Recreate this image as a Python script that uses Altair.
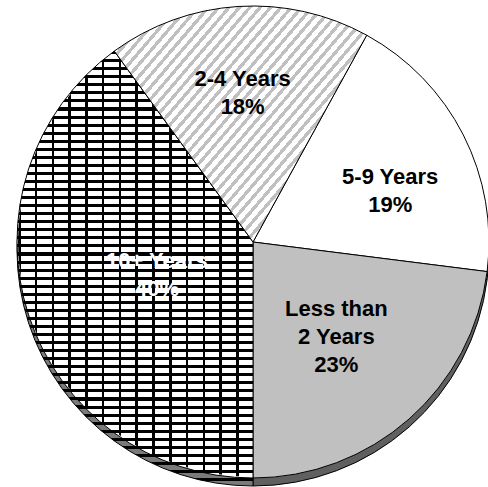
import math
import altair as alt
import pandas as pd

# Tenure groups, clockwise from the first slice
names = ["5-9 Years", "Less than\n2 Years", "10+ Years", "2-4 Years"]
shares = [19, 23, 40, 18]
order = [1, 2, 3, 4]

df = pd.DataFrame({
    "name": names,
    "share": shares,
    "order": order,
    "label": [f"{n}\n{s}%" for n, s in zip(names, shares)],
})

# Pie geometry
CX, CY, R = 253, 242, 236
DEPTH = 8
START = math.radians(28.8)
theta_scale = alt.Scale(domain=[0, 100], range=[START, START + 2 * math.pi])
LINE_H = 28


def stripes(n, on, off, frac, x2, y2):
    """Hard-edged repeating bands built from a linear gradient."""
    stops = []
    for i in range(n):
        a, b, c = i / n, (i + frac) / n, (i + 1) / n
        stops += [
            alt.GradientStop(color=on, offset=a),
            alt.GradientStop(color=on, offset=b),
            alt.GradientStop(color=off, offset=b),
            alt.GradientStop(color=off, offset=min(c, 1.0)),
        ]
    return alt.LinearGradient(gradient="linear", stops=stops,
                              x1=0, y1=0, x2=x2, y2=y2)


# brick texture: mortar rows plus vertical joints
brick_rows = stripes(53, "black", "white", 0.38, 0, 1)
brick_joints = stripes(14, "black", "rgba(0,0,0,0)", 0.15, 1, 0)
brick_rows_dark = stripes(53, "black", "#7a7a7a", 0.38, 0, 1)
# light grey diagonal hatching
diag = stripes(40, "#c0c0c0", "white", 0.42, 1, 0.8)

fills = {
    "5-9 Years": "white",
    "Less than\n2 Years": "#c0c0c0",
    "10+ Years": brick_rows,
    "2-4 Years": diag,
}
side_fills = {
    "5-9 Years": "#606060",
    "Less than\n2 Years": "#606060",
    "10+ Years": brick_rows_dark,
    "2-4 Years": "#606060",
}
# label placement: (radius, dx, dy) for the centre of each text block
label_pos = {
    "5-9 Years": (145, 8, 15),
    "Less than\n2 Years": (126, 0, 0),
    "10+ Years": (101, 0, 2),
    "2-4 Years": (149, -1, 0),
}

base = alt.Chart(df).transform_window(
    cum="sum(share)", sort=[alt.SortField("order")], frame=[None, 0]
).transform_calculate(
    start="datum.cum - datum.share",
    mid="datum.cum - datum.share / 2",
)

theta = alt.Theta("start:Q", scale=theta_scale, stack=None)

layers = []
# depth band under the pie
for n in names:
    layers.append(
        base.transform_filter(alt.datum.name == n)
        .mark_arc(radius=R, fill=side_fills[n], stroke="black", strokeWidth=1)
        .encode(theta=theta, theta2="cum:Q", x=alt.value(CX), y=alt.value(CY + DEPTH))
    )
# slices
for n in names:
    layers.append(
        base.transform_filter(alt.datum.name == n)
        .mark_arc(radius=R, fill=fills[n], stroke="black", strokeWidth=1)
        .encode(theta=theta, theta2="cum:Q", x=alt.value(CX), y=alt.value(CY))
    )
# vertical joints of the brick texture
layers.append(
    base.transform_filter(alt.datum.name == "10+ Years")
    .mark_arc(radius=R - 1, fill=brick_joints)
    .encode(theta=theta, theta2="cum:Q", x=alt.value(CX), y=alt.value(CY))
)
# labels (first line sits on the anchor, so lift each block by half its height)
for n in names:
    r, dx, dy = label_pos[n]
    lines = n.count("\n") + 2
    layers.append(
        base.transform_filter(alt.datum.name == n)
        .mark_text(
            radius=r, dx=dx, dy=dy - (lines - 1) * LINE_H / 2,
            lineBreak="\n", lineHeight=LINE_H,
            font="Liberation Sans", fontWeight="bold", fontSize=22,
            align="center", baseline="middle",
            color="white" if n == "10+ Years" else "black",
        )
        .encode(theta=alt.Theta("mid:Q", scale=theta_scale, stack=None),
                text="label:N", x=alt.value(CX), y=alt.value(CY))
    )

chart = alt.layer(*layers).properties(
    width=488, height=487, padding=0,
    autosize=alt.AutoSizeParams(type="none"),
    background="white",
).configure_view(stroke=None)

chart.save("out.html", embed_options={"renderer": "svg", "actions": False})
